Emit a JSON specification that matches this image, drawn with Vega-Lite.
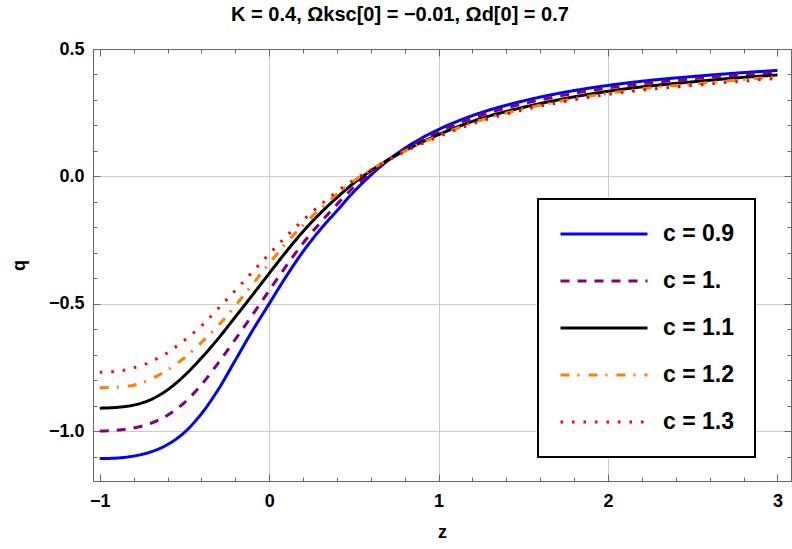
{
  "$schema": "https://vega.github.io/schema/vega-lite/v6.json",
  "width": 698,
  "height": 432,
  "autosize": "none",
  "padding": {"left": 93, "top": 49, "right": 1, "bottom": 68},
  "background": "white",
  "title": {"text": "K = 0.4, Ωksc[0] = −0.01, Ωd[0] = 0.7", "font": "Liberation Sans", "fontSize": 20, "fontWeight": "bold", "color": "black", "anchor": "middle", "dx": -42, "offset": 15},
  "data": {
    "values": [
      {"c": "0.9", "z": -1.0, "q": -1.108}, {"c": "0.9", "z": -0.9, "q": -1.106}, {"c": "0.9", "z": -0.8, "q": -1.098}, {"c": "0.9", "z": -0.7, "q": -1.082},
      {"c": "0.9", "z": -0.6, "q": -1.053}, {"c": "0.9", "z": -0.5, "q": -1.005}, {"c": "0.9", "z": -0.4, "q": -0.932}, {"c": "0.9", "z": -0.3, "q": -0.836},
      {"c": "0.9", "z": -0.2, "q": -0.722}, {"c": "0.9", "z": -0.1, "q": -0.607}, {"c": "0.9", "z": 0.0, "q": -0.500}, {"c": "0.9", "z": 0.1, "q": -0.393},
      {"c": "0.9", "z": 0.2, "q": -0.295}, {"c": "0.9", "z": 0.3, "q": -0.210}, {"c": "0.9", "z": 0.4, "q": -0.135}, {"c": "0.9", "z": 0.5, "q": -0.060},
      {"c": "0.9", "z": 0.6, "q": 0.005}, {"c": "0.9", "z": 0.7, "q": 0.062}, {"c": "0.9", "z": 0.8, "q": 0.110}, {"c": "0.9", "z": 0.9, "q": 0.150},
      {"c": "0.9", "z": 1.0, "q": 0.184}, {"c": "0.9", "z": 1.25, "q": 0.250}, {"c": "0.9", "z": 1.5, "q": 0.296}, {"c": "0.9", "z": 1.75, "q": 0.331},
      {"c": "0.9", "z": 2.0, "q": 0.357}, {"c": "0.9", "z": 2.25, "q": 0.377}, {"c": "0.9", "z": 2.5, "q": 0.392}, {"c": "0.9", "z": 2.75, "q": 0.405},
      {"c": "0.9", "z": 3.0, "q": 0.416},
      {"c": "1.", "z": -1.0, "q": -1.000}, {"c": "1.", "z": -0.9, "q": -0.997}, {"c": "1.", "z": -0.8, "q": -0.988}, {"c": "1.", "z": -0.7, "q": -0.970},
      {"c": "1.", "z": -0.6, "q": -0.938}, {"c": "1.", "z": -0.5, "q": -0.888}, {"c": "1.", "z": -0.4, "q": -0.818}, {"c": "1.", "z": -0.3, "q": -0.732},
      {"c": "1.", "z": -0.2, "q": -0.640}, {"c": "1.", "z": -0.1, "q": -0.545}, {"c": "1.", "z": 0.0, "q": -0.448}, {"c": "1.", "z": 0.1, "q": -0.352},
      {"c": "1.", "z": 0.2, "q": -0.262}, {"c": "1.", "z": 0.3, "q": -0.183}, {"c": "1.", "z": 0.4, "q": -0.110}, {"c": "1.", "z": 0.5, "q": -0.042},
      {"c": "1.", "z": 0.6, "q": 0.014}, {"c": "1.", "z": 0.7, "q": 0.064}, {"c": "1.", "z": 0.8, "q": 0.106}, {"c": "1.", "z": 0.9, "q": 0.143},
      {"c": "1.", "z": 1.0, "q": 0.176}, {"c": "1.", "z": 1.25, "q": 0.240}, {"c": "1.", "z": 1.5, "q": 0.285}, {"c": "1.", "z": 1.75, "q": 0.320},
      {"c": "1.", "z": 2.0, "q": 0.347}, {"c": "1.", "z": 2.25, "q": 0.367}, {"c": "1.", "z": 2.5, "q": 0.383}, {"c": "1.", "z": 2.75, "q": 0.397},
      {"c": "1.", "z": 3.0, "q": 0.408},
      {"c": "1.1", "z": -1.0, "q": -0.910}, {"c": "1.1", "z": -0.9, "q": -0.907}, {"c": "1.1", "z": -0.8, "q": -0.898}, {"c": "1.1", "z": -0.7, "q": -0.877},
      {"c": "1.1", "z": -0.6, "q": -0.838}, {"c": "1.1", "z": -0.5, "q": -0.782}, {"c": "1.1", "z": -0.4, "q": -0.713}, {"c": "1.1", "z": -0.3, "q": -0.636},
      {"c": "1.1", "z": -0.2, "q": -0.552}, {"c": "1.1", "z": -0.1, "q": -0.467}, {"c": "1.1", "z": 0.0, "q": -0.381}, {"c": "1.1", "z": 0.1, "q": -0.296},
      {"c": "1.1", "z": 0.2, "q": -0.216}, {"c": "1.1", "z": 0.3, "q": -0.146}, {"c": "1.1", "z": 0.4, "q": -0.083}, {"c": "1.1", "z": 0.5, "q": -0.026},
      {"c": "1.1", "z": 0.6, "q": 0.022}, {"c": "1.1", "z": 0.7, "q": 0.064}, {"c": "1.1", "z": 0.8, "q": 0.101}, {"c": "1.1", "z": 0.9, "q": 0.134},
      {"c": "1.1", "z": 1.0, "q": 0.164}, {"c": "1.1", "z": 1.25, "q": 0.227}, {"c": "1.1", "z": 1.5, "q": 0.271}, {"c": "1.1", "z": 1.75, "q": 0.306},
      {"c": "1.1", "z": 2.0, "q": 0.334}, {"c": "1.1", "z": 2.25, "q": 0.355}, {"c": "1.1", "z": 2.5, "q": 0.371}, {"c": "1.1", "z": 2.75, "q": 0.386},
      {"c": "1.1", "z": 3.0, "q": 0.398},
      {"c": "1.2", "z": -1.0, "q": -0.830}, {"c": "1.2", "z": -0.9, "q": -0.828}, {"c": "1.2", "z": -0.8, "q": -0.820}, {"c": "1.2", "z": -0.7, "q": -0.797},
      {"c": "1.2", "z": -0.6, "q": -0.760}, {"c": "1.2", "z": -0.5, "q": -0.712}, {"c": "1.2", "z": -0.4, "q": -0.652}, {"c": "1.2", "z": -0.3, "q": -0.585},
      {"c": "1.2", "z": -0.2, "q": -0.508}, {"c": "1.2", "z": -0.1, "q": -0.425}, {"c": "1.2", "z": 0.0, "q": -0.342}, {"c": "1.2", "z": 0.1, "q": -0.262},
      {"c": "1.2", "z": 0.2, "q": -0.192}, {"c": "1.2", "z": 0.3, "q": -0.128}, {"c": "1.2", "z": 0.4, "q": -0.070}, {"c": "1.2", "z": 0.5, "q": -0.018},
      {"c": "1.2", "z": 0.6, "q": 0.026}, {"c": "1.2", "z": 0.7, "q": 0.064}, {"c": "1.2", "z": 0.8, "q": 0.099}, {"c": "1.2", "z": 0.9, "q": 0.131},
      {"c": "1.2", "z": 1.0, "q": 0.160}, {"c": "1.2", "z": 1.25, "q": 0.221}, {"c": "1.2", "z": 1.5, "q": 0.265}, {"c": "1.2", "z": 1.75, "q": 0.299},
      {"c": "1.2", "z": 2.0, "q": 0.326}, {"c": "1.2", "z": 2.25, "q": 0.347}, {"c": "1.2", "z": 2.5, "q": 0.362}, {"c": "1.2", "z": 2.75, "q": 0.377},
      {"c": "1.2", "z": 3.0, "q": 0.390},
      {"c": "1.3", "z": -1.0, "q": -0.769}, {"c": "1.3", "z": -0.9, "q": -0.765}, {"c": "1.3", "z": -0.8, "q": -0.752}, {"c": "1.3", "z": -0.7, "q": -0.728},
      {"c": "1.3", "z": -0.6, "q": -0.692}, {"c": "1.3", "z": -0.5, "q": -0.643}, {"c": "1.3", "z": -0.4, "q": -0.587}, {"c": "1.3", "z": -0.3, "q": -0.518},
      {"c": "1.3", "z": -0.2, "q": -0.448}, {"c": "1.3", "z": -0.1, "q": -0.376}, {"c": "1.3", "z": 0.0, "q": -0.305}, {"c": "1.3", "z": 0.1, "q": -0.236},
      {"c": "1.3", "z": 0.2, "q": -0.172}, {"c": "1.3", "z": 0.3, "q": -0.113}, {"c": "1.3", "z": 0.4, "q": -0.060}, {"c": "1.3", "z": 0.5, "q": -0.014},
      {"c": "1.3", "z": 0.6, "q": 0.025}, {"c": "1.3", "z": 0.7, "q": 0.062}, {"c": "1.3", "z": 0.8, "q": 0.097}, {"c": "1.3", "z": 0.9, "q": 0.128},
      {"c": "1.3", "z": 1.0, "q": 0.156}, {"c": "1.3", "z": 1.25, "q": 0.217}, {"c": "1.3", "z": 1.5, "q": 0.261}, {"c": "1.3", "z": 1.75, "q": 0.295},
      {"c": "1.3", "z": 2.0, "q": 0.322}, {"c": "1.3", "z": 2.25, "q": 0.342}, {"c": "1.3", "z": 2.5, "q": 0.357}, {"c": "1.3", "z": 2.75, "q": 0.372},
      {"c": "1.3", "z": 3.0, "q": 0.385}
    ]
  },
  "layer": [
    {
      "mark": {"type": "line", "strokeWidth": 3, "interpolate": "monotone", "clip": true},
      "encoding": {
        "x": {
          "field": "z", "type": "quantitative",
          "scale": {"domain": [-1.04, 3.08], "nice": false, "zero": false},
          "axis": {
            "orient": "bottom", "offset": 0, "values": [-1, 0, 1, 2, 3], "format": "d", "title": "z",
            "grid": true, "gridColor": "#cccccc",
            "gridOpacity": {"condition": {"test": "datum.value == -1 || datum.value == 3", "value": 0}, "value": 1},
            "tickSize": -7, "labelPadding": 18, "titlePadding": 13
          }
        },
        "y": {
          "field": "q", "type": "quantitative",
          "scale": {"domain": [-1.196, 0.5], "nice": false, "zero": false},
          "axis": {
            "orient": "left", "offset": 0, "values": [-1, -0.5, 0, 0.5], "format": ".1f", "title": "q",
            "grid": true, "gridColor": "#cccccc",
            "gridOpacity": {"condition": {"test": "datum.value == 0.5", "value": 0}, "value": 1},
            "tickSize": -7, "labelPadding": 16, "titlePadding": 20
          }
        },
        "color": {
          "field": "c", "type": "nominal", "title": null,
          "scale": {"domain": ["0.9", "1.", "1.1", "1.2", "1.3"], "range": ["#0000ff", "#800080", "#000000", "#ff8000", "#ff0000"]},
          "legend": {"labelExpr": "'c = ' + datum.label"}
        },
        "strokeDash": {
          "field": "c", "type": "nominal", "title": null,
          "scale": {"domain": ["0.9", "1.", "1.1", "1.2", "1.3"], "range": [[1, 0], [9, 8], [1, 0], [9, 8, 2, 9], [2.5, 9]]},
          "legend": {"labelExpr": "'c = ' + datum.label"}
        }
      }
    },
    {
      "mark": {"type": "point", "opacity": 0},
      "encoding": {
        "x": {
          "field": "z", "type": "quantitative",
          "axis": {"orient": "bottom", "offset": 0, "values": [-0.8, -0.6, -0.4, -0.2, 0.2, 0.4, 0.6, 0.8, 1.2, 1.4, 1.6, 1.8, 2.2, 2.4, 2.6, 2.8], "labels": false, "title": null, "grid": false, "tickSize": -4}
        },
        "y": {
          "field": "q", "type": "quantitative",
          "axis": {"orient": "left", "offset": 0, "values": [-1.1, -0.9, -0.8, -0.7, -0.6, -0.4, -0.3, -0.2, -0.1, 0.1, 0.2, 0.3, 0.4], "labels": false, "title": null, "grid": false, "tickSize": -4}
        }
      }
    },
    {
      "mark": {"type": "point", "opacity": 0},
      "encoding": {
        "x": {
          "field": "z", "type": "quantitative",
          "axis": {"orient": "top", "offset": 0, "values": [-1, 0, 1, 2, 3], "labels": false, "title": null, "grid": false, "tickSize": -7}
        },
        "y": {
          "field": "q", "type": "quantitative",
          "axis": {"orient": "right", "offset": 0, "values": [-1, -0.5, 0, 0.5], "labels": false, "title": null, "grid": false, "tickSize": -7}
        }
      }
    },
    {
      "mark": {"type": "point", "opacity": 0},
      "encoding": {
        "x": {
          "field": "z", "type": "quantitative",
          "axis": {"orient": "top", "offset": 0, "values": [-0.8, -0.6, -0.4, -0.2, 0.2, 0.4, 0.6, 0.8, 1.2, 1.4, 1.6, 1.8, 2.2, 2.4, 2.6, 2.8], "labels": false, "title": null, "grid": false, "tickSize": -4}
        },
        "y": {
          "field": "q", "type": "quantitative",
          "axis": {"orient": "right", "offset": 0, "values": [-1.1, -0.9, -0.8, -0.7, -0.6, -0.4, -0.3, -0.2, -0.1, 0.1, 0.2, 0.3, 0.4], "labels": false, "title": null, "grid": false, "tickSize": -4}
        }
      }
    }
  ],
  "resolve": {"axis": {"x": "independent", "y": "independent"}},
  "config": {
    "view": {"stroke": null},
    "axis": {
      "domainColor": "#666666", "domainWidth": 1, "tickColor": "#666666", "tickWidth": 1,
      "labelFont": "Liberation Sans", "labelFontWeight": "bold", "labelFontSize": 18, "labelColor": "black",
      "titleFont": "Liberation Sans", "titleFontWeight": "bold", "titleFontSize": 18, "titleColor": "black"
    },
    "legend": {
      "orient": "none", "legendX": 445, "legendY": 150, "padding": 21,
      "strokeColor": "black", "strokeWidth": 2, "fillColor": "white",
      "symbolType": "stroke", "symbolSize": 7569, "symbolStrokeWidth": 3,
      "clipHeight": 28, "rowPadding": 19, "labelOffset": 14,
      "labelFont": "Liberation Sans", "labelFontWeight": "bold", "labelFontSize": 23, "labelColor": "black"
    }
  }
}
